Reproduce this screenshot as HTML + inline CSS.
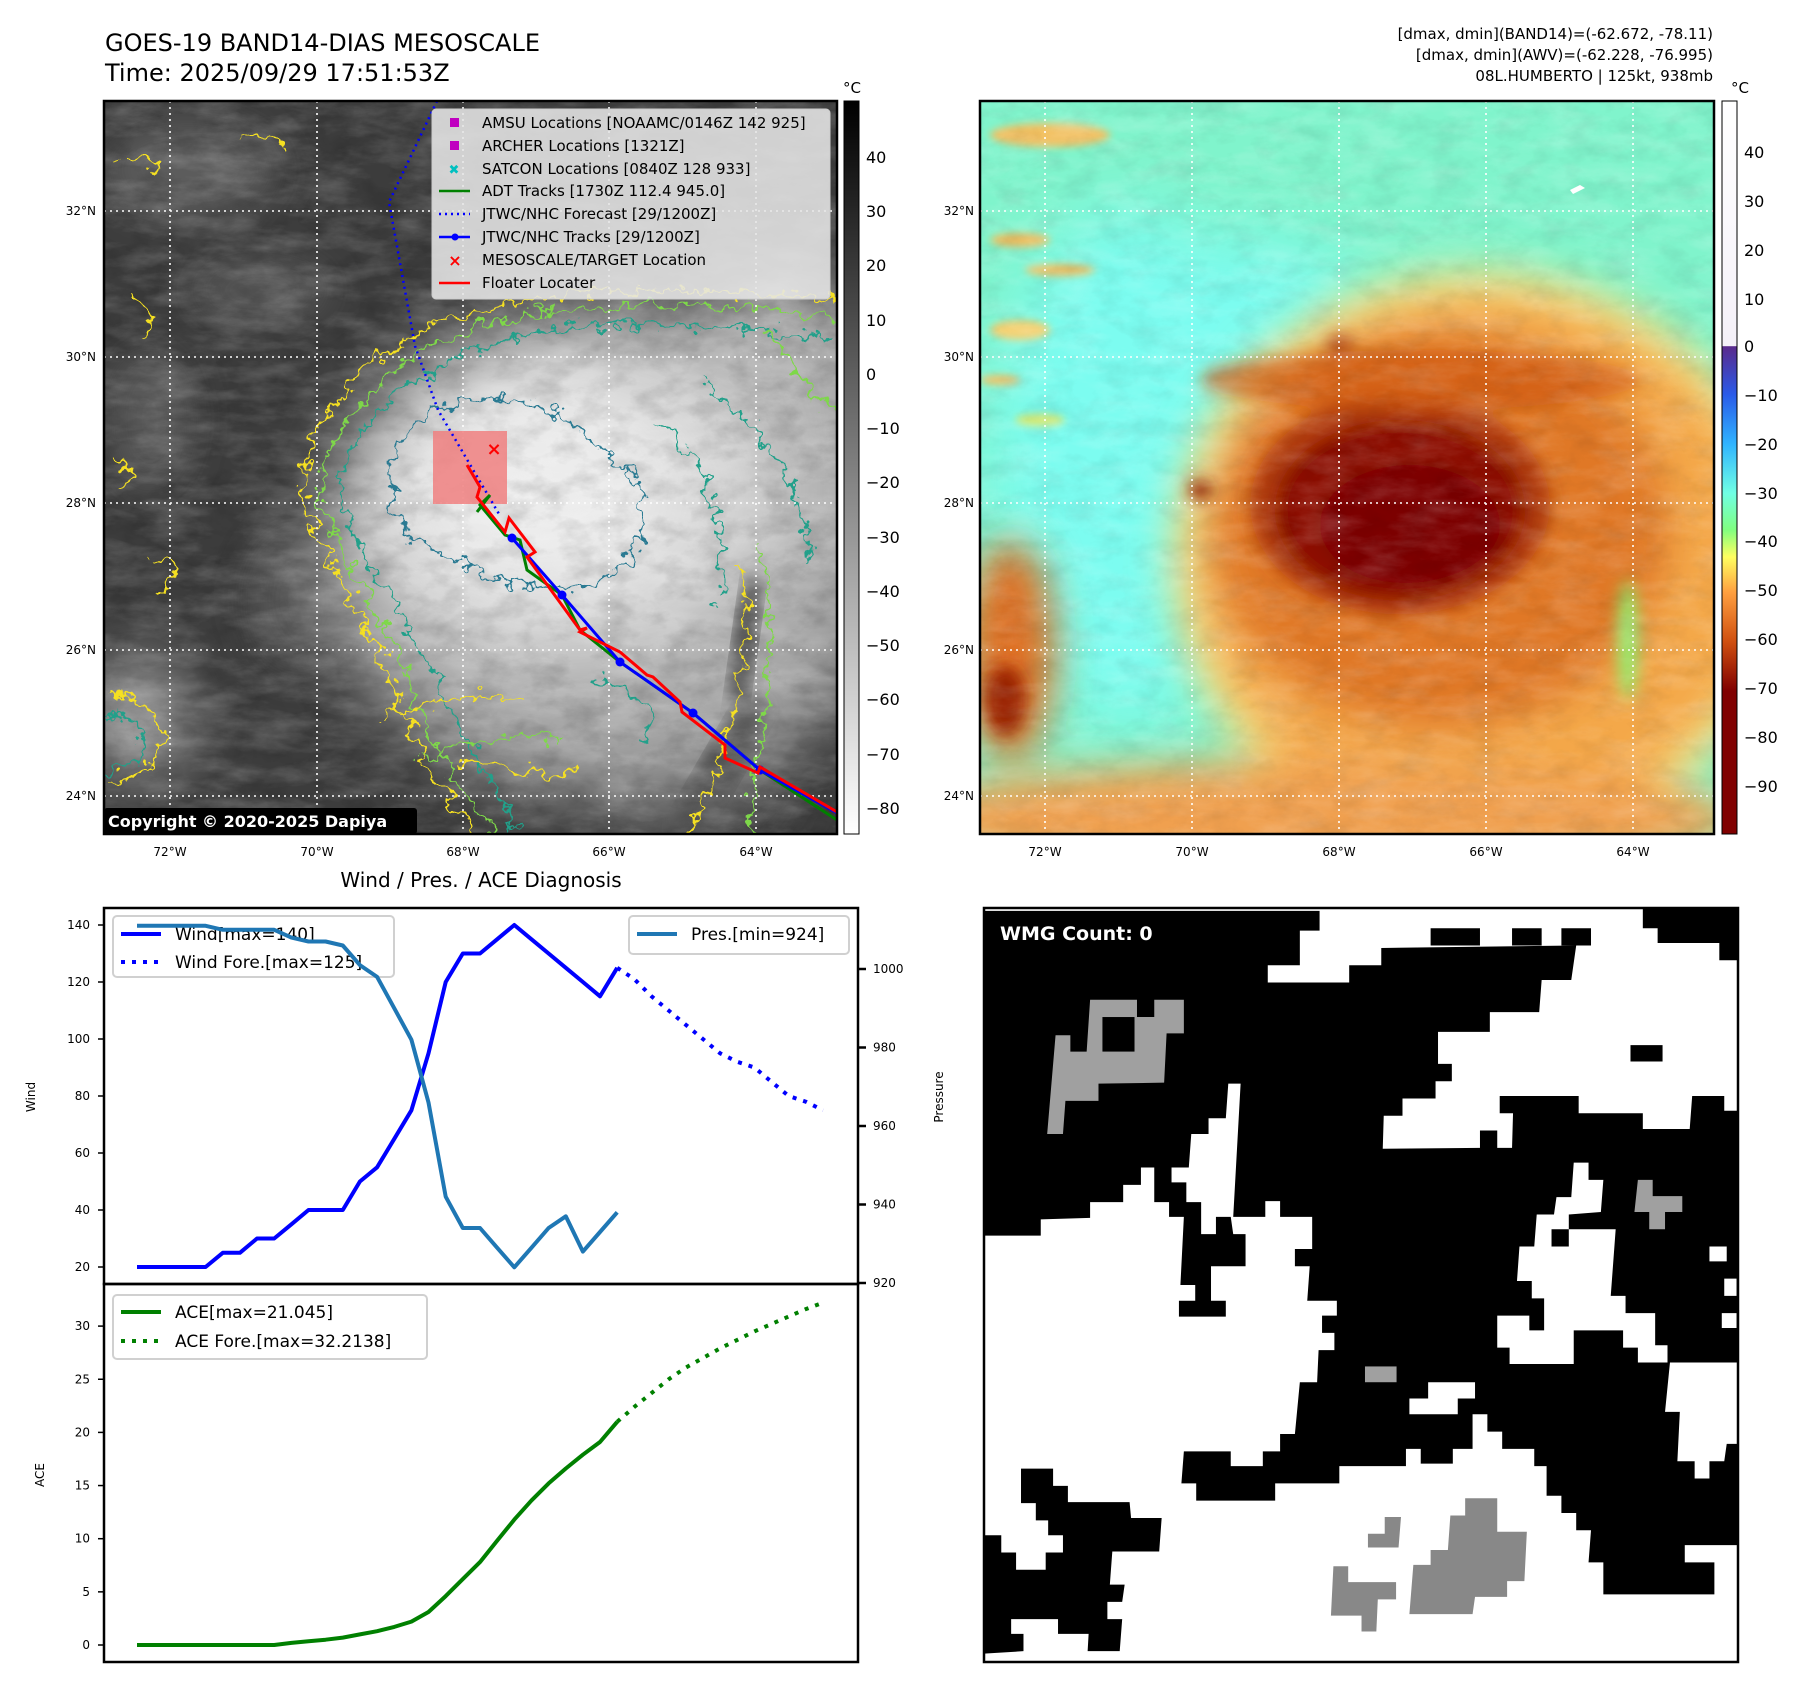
<!DOCTYPE html>
<html><head><meta charset="utf-8"><style>
html,body{margin:0;padding:0;background:#fff;}
svg{display:block;font-family:"DejaVu Sans","Liberation Sans",sans-serif;}
</style></head><body>
<svg id="root" width="1797" height="1690" viewBox="0 0 1797 1690" xmlns="http://www.w3.org/2000/svg">
<defs>
  <clipPath id="clipL"><rect x="104" y="101" width="733" height="733"/></clipPath>
  <clipPath id="clipR"><rect x="980" y="101" width="734" height="733"/></clipPath>
  <clipPath id="clipW"><rect x="984" y="908" width="754" height="754"/></clipPath>
  <filter id="blur4"><feGaussianBlur stdDeviation="4"/></filter>
  <filter id="blur8"><feGaussianBlur stdDeviation="8"/></filter>
  <filter id="blur20"><feGaussianBlur stdDeviation="20"/></filter>
  <filter id="blur35"><feGaussianBlur stdDeviation="35"/></filter>
  <filter id="tex" x="0" y="0" width="100%" height="100%">
    <feTurbulence type="fractalNoise" baseFrequency="0.02 0.06" numOctaves="5" seed="3"/>
    <feColorMatrix type="matrix" values="0 0 0 0 1  0 0 0 0 1  0 0 0 0 1  1.2 0 0 0 -0.45"/>
  </filter>
  <filter id="texD" x="0" y="0" width="100%" height="100%">
    <feTurbulence type="fractalNoise" baseFrequency="0.03 0.05" numOctaves="5" seed="9"/>
    <feColorMatrix type="matrix" values="0 0 0 0 0  0 0 0 0 0  0 0 0 0 0  1.2 0 0 0 -0.5"/>
  </filter>
  <filter id="wob" x="-10%" y="-10%" width="120%" height="120%">
    <feTurbulence type="fractalNoise" baseFrequency="0.07" numOctaves="3" seed="7" result="n"/>
    <feDisplacementMap in="SourceGraphic" in2="n" scale="30" xChannelSelector="R" yChannelSelector="G"/>
  </filter>
  <filter id="wob2" x="-10%" y="-10%" width="120%" height="120%">
    <feTurbulence type="fractalNoise" baseFrequency="0.05" numOctaves="3" seed="11" result="n"/>
    <feDisplacementMap in="SourceGraphic" in2="n" scale="36" xChannelSelector="R" yChannelSelector="G"/>
  </filter>
  <linearGradient id="gGray" x1="0" y1="0" x2="0" y2="1">
    <stop offset="0" stop-color="#000"/><stop offset="1" stop-color="#fff"/>
  </linearGradient>
  <linearGradient id="gCol" x1="0" y1="101" x2="0" y2="834" gradientUnits="userSpaceOnUse">
    <stop offset="0" stop-color="#ffffff"/>
    <stop offset="0.334" stop-color="#f4f0f8"/>
    <stop offset="0.335" stop-color="#5a2a8c"/>
    <stop offset="0.40" stop-color="#2a5ae8"/>
    <stop offset="0.468" stop-color="#30b4ff"/>
    <stop offset="0.535" stop-color="#70ffe4"/>
    <stop offset="0.585" stop-color="#80ff80"/>
    <stop offset="0.622" stop-color="#ffff60"/>
    <stop offset="0.67" stop-color="#ffa040"/>
    <stop offset="0.737" stop-color="#d05010"/>
    <stop offset="0.805" stop-color="#800000"/>
    <stop offset="1" stop-color="#800000"/>
  </linearGradient>
</defs>

<text x="105" y="51" font-size="24" fill="#000">GOES-19 BAND14-DIAS MESOSCALE</text>
<text x="105" y="81" font-size="24" fill="#000">Time: 2025/09/29 17:51:53Z</text>
<g font-size="15" text-anchor="end" fill="#000">
  <text x="1713" y="39">[dmax, dmin](BAND14)=(-62.672, -78.11)</text>
  <text x="1713" y="60">[dmax, dmin](AWV)=(-62.228, -76.995)</text>
  <text x="1713" y="81">08L.HUMBERTO | 125kt, 938mb</text>
</g>

<!-- LEFT MAP -->
<g clip-path="url(#clipL)">
  <rect x="104" y="101" width="733" height="733" fill="#3c3c3c"/>
  <g filter="url(#blur20)" fill="#5c5c5c">
    <ellipse cx="190" cy="170" rx="90" ry="50"/>
    <ellipse cx="260" cy="290" rx="70" ry="30"/>
    <ellipse cx="150" cy="420" rx="40" ry="70"/>
    <ellipse cx="300" cy="600" rx="50" ry="70" fill="#555"/>
  </g>
  <g filter="url(#blur35)">
    <ellipse cx="610" cy="550" rx="290" ry="245" fill="#a8a8a8"/>
    <ellipse cx="780" cy="420" rx="110" ry="150" fill="#b4b4b4"/>
    <ellipse cx="560" cy="500" rx="210" ry="160" fill="#d8d8d8"/>
    <ellipse cx="540" cy="490" rx="130" ry="100" fill="#ececec"/>
    <ellipse cx="135" cy="720" rx="45" ry="55" fill="#c8c8c8"/>
    <ellipse cx="700" cy="810" rx="70" ry="40" fill="#5a5a5a"/>
  </g>
  <ellipse cx="745" cy="640" rx="12" ry="70" fill="#555" filter="url(#blur8)" transform="rotate(8 745 640)"/>
  <ellipse cx="720" cy="770" rx="20" ry="80" fill="#585858" filter="url(#blur8)" transform="rotate(30 720 770)"/>
  <rect x="104" y="101" width="733" height="733" filter="url(#tex)" opacity="0.3"/>
  <rect x="104" y="101" width="733" height="733" filter="url(#texD)" opacity="0.25"/>
  <g fill="none" stroke-width="2.2" filter="url(#wob)">
    <path d="M837,300 C760,290 640,285 540,298 C450,312 380,340 340,400 C310,440 300,470 305,500 C320,560 370,620 395,690 C410,740 440,790 480,840" stroke="#f5e020"/>
    <path d="M837,318 C760,305 640,300 545,312 C460,326 395,355 355,410 C325,450 318,475 322,500 C336,555 385,615 410,685 C425,735 455,785 500,840" stroke="#7ed84a"/>
    <path d="M837,340 C760,325 650,320 555,330 C475,345 410,370 372,420 C345,455 338,480 342,505 C356,555 400,605 430,670 C450,715 480,760 520,840" stroke="#20a08a"/>
    <path d="M392,462 C400,430 420,405 470,400 C520,395 570,410 606,455 C630,470 650,485 640,540 C620,590 560,600 500,578 C440,560 400,540 392,500 Z" stroke="#2a7a92"/>
    <path d="M104,700 C125,690 150,700 160,730 C165,760 140,780 104,780" stroke="#f5e020"/>
    <path d="M104,715 C120,708 140,718 145,740 C147,760 130,770 104,770" stroke="#20a08a"/>
    <path d="M740,560 C750,600 745,660 730,720 C720,770 700,810 690,840" stroke="#f5e020"/>
    <path d="M760,540 C775,600 770,680 760,740 C752,790 750,820 750,840" stroke="#7ed84a"/>
    <path d="M660,420 C700,450 730,520 720,600" stroke="#20a08a"/>
    <path d="M700,380 C760,420 800,480 810,560" stroke="#20a08a"/>
    <path d="M380,720 C430,700 480,690 520,700" stroke="#f5e020"/>
    <path d="M420,760 C470,740 520,730 560,740" stroke="#7ed84a"/>
  </g>
  <g fill="none" stroke-width="2.2" filter="url(#wob2)">
    <path d="M120,160 C150,150 170,160 150,175" stroke="#f5e020"/>
    <path d="M240,140 C260,130 290,135 280,150" stroke="#f5e020"/>
    <path d="M130,300 C150,310 160,320 140,330" stroke="#f5e020"/>
    <path d="M150,560 C170,560 180,580 160,590" stroke="#f5e020"/>
    <path d="M110,460 C130,470 140,480 120,490" stroke="#f5e020"/>
    <path d="M460,760 C500,770 540,780 580,770" stroke="#f5e020"/>
    <path d="M760,330 C790,360 820,400 837,420" stroke="#7ed84a"/>
    <path d="M600,680 C640,690 660,720 640,740" stroke="#20a08a"/>
  </g>
  <g stroke="#fff" stroke-width="1.6" stroke-dasharray="2 4">
    <line x1="170" y1="101" x2="170" y2="834"/><line x1="317" y1="101" x2="317" y2="834"/><line x1="463" y1="101" x2="463" y2="834"/><line x1="609" y1="101" x2="609" y2="834"/><line x1="756" y1="101" x2="756" y2="834"/>
    <line x1="104" y1="211" x2="837" y2="211"/><line x1="104" y1="357" x2="837" y2="357"/><line x1="104" y1="503" x2="837" y2="503"/><line x1="104" y1="650" x2="837" y2="650"/><line x1="104" y1="796" x2="837" y2="796"/>
  </g>
  <rect x="433" y="431" width="74" height="73" fill="#f08080" opacity="0.85"/>
  <polyline points="437,101 389,202 415,346 438,410 499,514" fill="none" stroke="#0000ff" stroke-width="2.5" stroke-dasharray="2 4"/>
  <polyline points="477,512 490,495 480,505 505,535 520,540 527,570 562,595 580,630 620,662 693,713 760,770 837,820" fill="none" stroke="#008000" stroke-width="3"/>
  <polyline points="512,538 562,595 620,662 693,713 760,770 837,813" fill="none" stroke="#0000ff" stroke-width="3"/>
  <g fill="#0000ff"><circle cx="512" cy="538" r="4.5"/><circle cx="562" cy="595" r="4.5"/><circle cx="620" cy="662" r="4.5"/><circle cx="693" cy="713" r="4.5"/><circle cx="760" cy="770" r="4.5"/></g>
  <polyline points="467,465 480,487 477,497 505,532 509,518 535,552 527,557 580,630 587,628 580,632 620,652 647,675 653,677 680,702 682,712 725,745 725,758 758,773 760,767 837,812" fill="none" stroke="#ff0000" stroke-width="3"/>
  <text x="494" y="455" font-size="18" font-weight="bold" fill="#ff0000" text-anchor="middle">×</text>
</g>
<rect x="104" y="101" width="733" height="733" fill="none" stroke="#000" stroke-width="2.5"/>
<g>
  <rect x="432" y="109" width="398" height="190" rx="4" fill="#e6e6e6" fill-opacity="0.88" stroke="#ccc"/>
  <g font-size="15" fill="#000">
    <rect x="450" y="118" width="9" height="9" fill="#c000c0"/><text x="482" y="128">AMSU Locations [NOAAMC/0146Z 142 925]</text>
    <rect x="450" y="141" width="9" height="9" fill="#c000c0"/><text x="482" y="151">ARCHER Locations [1321Z]</text>
    <text x="454" y="174" fill="#00c0c0" font-size="13" text-anchor="middle">✖</text><text x="482" y="174">SATCON Locations [0840Z 128 933]</text>
    <line x1="439" y1="191" x2="470" y2="191" stroke="#008000" stroke-width="2.5"/><text x="482" y="196">ADT Tracks [1730Z 112.4 945.0]</text>
    <line x1="439" y1="214" x2="470" y2="214" stroke="#0000ff" stroke-width="2.5" stroke-dasharray="2 4"/><text x="482" y="219">JTWC/NHC Forecast [29/1200Z]</text>
    <line x1="439" y1="237" x2="470" y2="237" stroke="#0000ff" stroke-width="2.5"/><circle cx="455" cy="237" r="3.5" fill="#0000ff"/><text x="482" y="242">JTWC/NHC Tracks [29/1200Z]</text>
    <text x="455" y="266" fill="#ff0000" font-weight="bold" font-size="16" text-anchor="middle">×</text><text x="482" y="265">MESOSCALE/TARGET Location</text>
    <line x1="439" y1="283" x2="470" y2="283" stroke="#ff0000" stroke-width="2.5"/><text x="482" y="288">Floater Locater</text>
  </g>
</g>
<g>
  <rect x="104" y="808" width="313" height="26" rx="3" fill="#000"/>
  <text x="108" y="827" font-size="16" font-weight="bold" fill="#fff">Copyright © 2020-2025 Dapiya</text>
</g>
<g font-size="12" fill="#000" text-anchor="end">
  <text x="96" y="215">32°N</text><text x="96" y="361">30°N</text><text x="96" y="507">28°N</text><text x="96" y="654">26°N</text><text x="96" y="800">24°N</text>
</g>
<g font-size="12" fill="#000" text-anchor="middle">
  <text x="170" y="856">72°W</text><text x="317" y="856">70°W</text><text x="463" y="856">68°W</text><text x="609" y="856">66°W</text><text x="756" y="856">64°W</text>
</g>
<g>
  <rect x="844" y="101" width="15" height="733" fill="url(#gGray)" stroke="#000" stroke-width="1"/>
  <text x="852" y="93" font-size="15" text-anchor="middle">°C</text>
  <g font-size="16" fill="#000">
    <text x="866" y="163">40</text><text x="866" y="217">30</text><text x="866" y="271">20</text><text x="866" y="326">10</text><text x="866" y="380">0</text>
    <text x="866" y="434">−10</text><text x="866" y="488">−20</text><text x="866" y="543">−30</text><text x="866" y="597">−40</text><text x="866" y="651">−50</text>
    <text x="866" y="705">−60</text><text x="866" y="760">−70</text><text x="866" y="814">−80</text>
  </g>
</g>

<!-- RIGHT MAP -->
<g clip-path="url(#clipR)">
  <rect x="980" y="101" width="734" height="733" fill="#80f4cc"/>
  <g filter="url(#blur35)">
    <ellipse cx="1130" cy="470" rx="140" ry="260" fill="#7cfcf0"/>
    <ellipse cx="1250" cy="330" rx="120" ry="90" fill="#7cfcf0"/>
  </g>
  <g filter="url(#blur4)" fill="#f2c060">
    <ellipse cx="1050" cy="135" rx="60" ry="12"/>
    <ellipse cx="1020" cy="240" rx="30" ry="7"/>
    <ellipse cx="1060" cy="270" rx="35" ry="6"/>
    <ellipse cx="1020" cy="330" rx="30" ry="10" fill="#f4d070"/>
    <ellipse cx="1040" cy="420" rx="25" ry="6" fill="#d8e870"/>
    <ellipse cx="1000" cy="380" rx="20" ry="5"/>
  </g>
  <g filter="url(#blur20)">
    <ellipse cx="1480" cy="560" rx="310" ry="290" fill="#f8e080"/>
    <ellipse cx="1480" cy="560" rx="285" ry="265" fill="#f4a848"/>
    <ellipse cx="1440" cy="530" rx="230" ry="200" fill="#e07828"/>
    <ellipse cx="1320" cy="820" rx="420" ry="60" fill="#f0a050"/>
    <ellipse cx="1010" cy="650" rx="45" ry="110" fill="#e07020"/>
  </g>
  <g filter="url(#blur8)">
    <ellipse cx="1400" cy="505" rx="150" ry="110" fill="#b03a08"/>
    <ellipse cx="1400" cy="510" rx="125" ry="90" fill="#8c0c00"/>
    <ellipse cx="1410" cy="525" rx="90" ry="60" fill="#7c0000"/>
    <ellipse cx="1005" cy="700" rx="20" ry="35" fill="#9a2000"/>
    <ellipse cx="1200" cy="490" rx="12" ry="10" fill="#9a2000"/>
    <ellipse cx="1340" cy="345" rx="12" ry="9" fill="#a02a00"/>
    <ellipse cx="1420" cy="380" rx="220" ry="30" fill="#d05a10" opacity="0.7"/>
    <ellipse cx="1628" cy="640" rx="10" ry="60" fill="#90f070"/>
  </g>
  <rect x="980" y="101" width="734" height="733" filter="url(#tex)" opacity="0.25"/>
  <rect x="980" y="101" width="734" height="733" filter="url(#texD)" opacity="0.12"/>
  <path d="M1570,190 l10,-5 l5,3 l-12,6 z" fill="#fff"/>
  <g stroke="#fff" stroke-width="1.6" stroke-dasharray="2 4">
    <line x1="1045" y1="101" x2="1045" y2="834"/><line x1="1192" y1="101" x2="1192" y2="834"/><line x1="1339" y1="101" x2="1339" y2="834"/><line x1="1486" y1="101" x2="1486" y2="834"/><line x1="1633" y1="101" x2="1633" y2="834"/>
    <line x1="980" y1="211" x2="1714" y2="211"/><line x1="980" y1="357" x2="1714" y2="357"/><line x1="980" y1="503" x2="1714" y2="503"/><line x1="980" y1="650" x2="1714" y2="650"/><line x1="980" y1="796" x2="1714" y2="796"/>
  </g>
</g>
<rect x="980" y="101" width="734" height="733" fill="none" stroke="#000" stroke-width="2.5"/>
<g font-size="12" fill="#000" text-anchor="end">
  <text x="974" y="215">32°N</text><text x="974" y="361">30°N</text><text x="974" y="507">28°N</text><text x="974" y="654">26°N</text><text x="974" y="800">24°N</text>
</g>
<g font-size="12" fill="#000" text-anchor="middle">
  <text x="1045" y="856">72°W</text><text x="1192" y="856">70°W</text><text x="1339" y="856">68°W</text><text x="1486" y="856">66°W</text><text x="1633" y="856">64°W</text>
</g>
<g>
  <rect x="1722" y="101" width="15" height="733" fill="url(#gCol)" stroke="#000" stroke-width="1"/>
  <text x="1740" y="93" font-size="15" text-anchor="middle">°C</text>
  <g font-size="16" fill="#000">
    <text x="1744" y="158">40</text><text x="1744" y="207">30</text><text x="1744" y="256">20</text><text x="1744" y="305">10</text><text x="1744" y="352">0</text>
    <text x="1744" y="401">−10</text><text x="1744" y="450">−20</text><text x="1744" y="499">−30</text><text x="1744" y="547">−40</text><text x="1744" y="596">−50</text>
    <text x="1744" y="645">−60</text><text x="1744" y="694">−70</text><text x="1744" y="743">−80</text><text x="1744" y="792">−90</text>
  </g>
</g>

<text x="481" y="887" font-size="20" text-anchor="middle">Wind / Pres. / ACE Diagnosis</text>
<g id="chart"></g>

<g clip-path="url(#clipW)">
  <rect x="984" y="908" width="754" height="754" fill="#fff"/>
  <g transform="translate(984,906) scale(0.4935)">
    <path fill="#000" d="M0,10 L680,10 L680,50 L640,50 L640,120 L575,120 L575,155 L740,155 L740,120 L805,120 L805,85 L1200,80 L1190,150 L1130,150 L1125,215 L1025,215 L1025,255 L920,255 L920,320 L948,320 L948,355 L915,355 L915,390 L848,390 L848,425 L810,425 L808,492 L1005,490 L1005,455 L1040,455 L1040,490 L1070,490 L1072,420 L1045,420 L1045,385 L1205,385 L1205,420 L1335,420 L1335,452 L1430,452 L1435,385 L1500,385 L1500,415 L1530,415 L1530,925 L1390,925 L1380,1025 L1410,1025 L1405,1125 L1440,1125 L1440,1160 L1470,1160 L1470,1125 L1500,1125 L1505,1090 L1530,1090 L1530,1295 L1420,1295 L1420,1330 L1480,1330 L1480,1395 L1255,1395 L1255,1330 L1225,1330 L1230,1265 L1200,1265 L1200,1230 L1170,1230 L1170,1195 L1140,1195 L1140,1135 L1115,1135 L1115,1100 L1050,1100 L1050,1065 L1020,1065 L1020,1030 L990,1030 L990,1100 L950,1100 L950,1130 L885,1130 L885,1100 L855,1100 L855,1135 L720,1135 L720,1170 L590,1170 L590,1205 L430,1205 L430,1170 L400,1170 L405,1105 L500,1105 L500,1135 L565,1135 L565,1105 L600,1105 L600,1070 L630,1070 L640,965 L675,965 L678,900 L710,900 L710,865 L685,865 L685,830 L715,830 L715,800 L655,800 L660,730 L630,730 L630,695 L665,695 L665,630 L600,630 L600,598 L570,598 L570,630 L505,630 L520,360 L495,360 L490,430 L455,430 L455,462 L420,462 L415,530 L380,530 L380,560 L410,560 L410,600 L440,600 L440,665 L470,665 L470,630 L500,630 L505,665 L530,665 L530,730 L460,730 L460,800 L490,800 L490,832 L395,832 L395,800 L428,800 L428,768 L398,768 L405,630 L375,630 L375,600 L345,600 L345,530 L318,530 L318,565 L282,565 L282,600 L215,600 L215,632 L115,635 L115,668 L0,668 Z"/>
    <path fill="#000" d="M1335,0 L1530,0 L1530,110 L1490,110 L1490,75 L1365,75 L1365,45 L1335,45 Z M1310,282 h65 v33 h-65 Z M905,45 h100 v35 h-100 Z M1070,45 h60 v35 h-60Z M1170,45 h60 v35 h-60Z"/>
    <path fill="#fff" d="M1195,520 L1225,520 L1225,555 L1255,555 L1250,620 L1185,625 L1185,655 L1280,655 L1270,790 L1300,790 L1300,825 L1360,825 L1360,890 L1385,890 L1385,925 L1325,925 L1325,895 L1295,895 L1295,860 L1195,860 L1195,928 L1065,928 L1065,895 L1040,895 L1040,830 L1105,830 L1105,860 L1135,860 L1135,795 L1110,795 L1110,760 L1080,760 L1085,690 L1115,690 L1120,625 L1155,625 L1160,590 L1190,590 Z M1470,690 h35 v30 h-35Z M1500,755 h25 v35 h-25Z M1495,825 h30 v30 h-30Z M900,965 L995,965 L995,998 L960,998 L960,1030 L862,1030 L862,998 L900,998 Z"/>
    <rect x="1150" y="655" width="35" height="35" fill="#000"/>
    <path fill="#000" d="M75,1140 L140,1140 L140,1175 L170,1175 L170,1208 L295,1208 L298,1240 L360,1240 L355,1308 L260,1308 L255,1375 L285,1375 L280,1410 L250,1410 L250,1445 L280,1445 L275,1510 L210,1510 L212,1475 L150,1475 L150,1445 L55,1445 L55,1475 L80,1475 L80,1510 L0,1515 L0,1275 L35,1275 L35,1310 L65,1310 L65,1345 L125,1345 L125,1310 L160,1310 L160,1275 L130,1275 L130,1245 L105,1245 L105,1210 L75,1210 Z"/>
    <path fill="#a0a0a0" d="M215,190 L310,190 L310,225 L345,225 L345,190 L405,190 L405,258 L370,258 L365,358 L232,360 L232,395 L165,395 L160,462 L128,462 L145,262 L175,262 L175,295 L208,295 Z"/>
    <rect x="240" y="225" width="65" height="70" fill="#000"/>
    <path fill="#a0a0a0" d="M1325,555 L1355,555 L1355,588 L1415,588 L1415,620 L1380,620 L1380,655 L1348,655 L1348,620 L1318,620 Z"/>
    <rect x="772" y="933" width="64" height="32" fill="#a0a0a0"/>
    <path fill="#888" d="M975,1200 L1040,1200 L1040,1268 L1100,1268 L1095,1368 L1060,1368 L1060,1400 L995,1400 L990,1435 L862,1435 L870,1335 L905,1335 L905,1305 L940,1305 L945,1235 L975,1235 Z M812,1238 L845,1238 L840,1300 L778,1300 L778,1272 L812,1272 Z M708,1338 L738,1338 L738,1370 L835,1370 L835,1405 L798,1405 L795,1470 L765,1470 L765,1438 L703,1438 Z"/>
  </g>
  <text x="1000" y="940" font-size="19" font-weight="bold" fill="#fff">WMG Count: 0</text>
</g>
<rect x="984" y="908" width="754" height="754" fill="none" stroke="#000" stroke-width="2.5"/>
</svg>

<script>
const timeIdx = [0,1,2,3,4,5,6,7,8,9,10,11,12,13,14,15,16,17,18,19,20,21,22,23,24,25,26,27,28];
const windObs = [20,20,20,20,20,25,25,30,30,35,40,40,40,50,55,65,75,95,120,130,130,135,140,135,130,125,120,115,125];
const foreIdx = [28,29,30,31,32,33,34,35,36,37,38,39,40];
const windFore = [125,121,115,110,105,100,95,92,90,85,80,78,75];
const presObs = [1011,1011,1011,1011,1011,1010,1010,1010,1010,1008,1007,1007,1006,1001,998,990,982,966,942,934,934,929,924,929,934,937,928,933,938];
const aceObs = [0,0,0,0,0,0,0,0,0,0.2,0.35,0.5,0.7,1.0,1.3,1.7,2.2,3.1,4.6,6.2,7.8,9.8,11.8,13.6,15.2,16.6,17.9,19.1,21.0];
const aceFore = [21.0,22.4,23.7,25.0,26.1,27.0,27.9,28.7,29.5,30.2,30.9,31.6,32.2];
const windTicks = [20,40,60,80,100,120,140];
const presTicks = [920,940,960,980,1000];
const aceTicks = [0,5,10,15,20,25,30];

const NS = 'http://www.w3.org/2000/svg';
const chart = document.getElementById('chart');
const X0 = 104, X1 = 858, TOP = 908, MID = 1284, BOT = 1662;
function xs(i){ return 137 + i * 17.15; }
function yWind(v){ return 1267 - (v - 20) * 2.85; }
function yPres(p){ return 1283 - (p - 920) * 3.925; }
function yAce(a){ return 1645 - a * 10.63; }
function mk(tag, attrs, parent){
  const e = document.createElementNS(NS, tag);
  for (const k in attrs) e.setAttribute(k, attrs[k]);
  (parent || chart).appendChild(e);
  return e;
}
function pts(idx, vals, yf){ return idx.map((i,k)=> xs(i).toFixed(1)+','+yf(vals[k]).toFixed(1)).join(' '); }

const f1 = mk('rect', {x:X0, y:TOP, width:X1-X0, height:MID-TOP, fill:'none', stroke:'#000', 'stroke-width':2.5});


const f2 = mk('rect', {x:X0, y:MID, width:X1-X0, height:BOT-MID, fill:'none', stroke:'#000', 'stroke-width':2.5});



windTicks.forEach(v=>{
  const y = yWind(v);
  mk('line', {x1:X0-6, y1:y, x2:X0, y2:y, stroke:'#000', 'stroke-width':1.5});
  const t = mk('text', {x:X0-14, y:y+4, 'font-size':12, 'text-anchor':'end'}); t.textContent = v;
  
  
});
presTicks.forEach(v=>{
  const y = yPres(v);
  mk('line', {x1:X1, y1:y, x2:X1+8, y2:y, stroke:'#000', 'stroke-width':2.5});
  const t = mk('text', {x:X1+15, y:y+4, 'font-size':12}); t.textContent = v;
  
  
});
aceTicks.forEach(v=>{
  const y = yAce(v);
  mk('line', {x1:X0-6, y1:y, x2:X0, y2:y, stroke:'#000', 'stroke-width':1.5});
  const t = mk('text', {x:X0-14, y:y+4, 'font-size':12, 'text-anchor':'end'}); t.textContent = v;
  
  
});
const yl1 = mk('text', {x:0, y:0, 'font-size':12, 'text-anchor':'middle', transform:'translate(35,1097) rotate(-90)'}); yl1.textContent = 'Wind';


const yl2 = mk('text', {x:0, y:0, 'font-size':12, 'text-anchor':'middle', transform:'translate(943,1097) rotate(-90)'}); yl2.textContent = 'Pressure';


const yl3 = mk('text', {x:0, y:0, 'font-size':12, 'text-anchor':'middle', transform:'translate(44,1475) rotate(-90)'}); yl3.textContent = 'ACE';



function legendBox(x,y,w,h,name){
  const r = mk('rect', {x:x, y:y, width:w, height:h, rx:4, fill:'#fff', 'fill-opacity':0.8, stroke:'#d0d0d0', 'stroke-width':2});
  
  
}
const wl = mk('polyline', {points:pts(timeIdx, windObs, yWind), fill:'none', stroke:'#0000ff', 'stroke-width':4, 'stroke-linejoin':'round'});


const wf = mk('polyline', {points:pts(foreIdx, windFore, yWind), fill:'none', stroke:'#0000ff', 'stroke-width':4, 'stroke-dasharray':'4 7'});



legendBox(113, 916, 281, 61, 'wind-legend');
mk('line', {x1:121, y1:934, x2:161, y2:934, stroke:'#0000ff', 'stroke-width':4});
const lt1 = mk('text', {x:175, y:940, 'font-size':17}); lt1.textContent = 'Wind[max=140]';


mk('line', {x1:121, y1:962, x2:161, y2:962, stroke:'#0000ff', 'stroke-width':4, 'stroke-dasharray':'4 7'});
const lt2 = mk('text', {x:175, y:968, 'font-size':17}); lt2.textContent = 'Wind Fore.[max=125]';



legendBox(629, 916, 220, 38, 'pressure-legend');
mk('line', {x1:637, y1:934, x2:677, y2:934, stroke:'#1f77b4', 'stroke-width':4});
const lt3 = mk('text', {x:691, y:940, 'font-size':17}); lt3.textContent = 'Pres.[min=924]';



const pl = mk('polyline', {points:pts(timeIdx, presObs, yPres), fill:'none', stroke:'#1f77b4', 'stroke-width':4, 'stroke-linejoin':'round'});



legendBox(113, 1295, 314, 64, 'ace-legend');
mk('line', {x1:121, y1:1312, x2:161, y2:1312, stroke:'#008000', 'stroke-width':4});
const lt4 = mk('text', {x:175, y:1318, 'font-size':17}); lt4.textContent = 'ACE[max=21.045]';


mk('line', {x1:121, y1:1341, x2:161, y2:1341, stroke:'#008000', 'stroke-width':4, 'stroke-dasharray':'4 7'});
const lt5 = mk('text', {x:175, y:1347, 'font-size':17}); lt5.textContent = 'ACE Fore.[max=32.2138]';



const al = mk('polyline', {points:pts(timeIdx, aceObs, yAce), fill:'none', stroke:'#008000', 'stroke-width':4, 'stroke-linejoin':'round'});


const af = mk('polyline', {points:pts(foreIdx, aceFore, yAce), fill:'none', stroke:'#008000', 'stroke-width':4, 'stroke-dasharray':'4 7'});


</script>
</body></html>
